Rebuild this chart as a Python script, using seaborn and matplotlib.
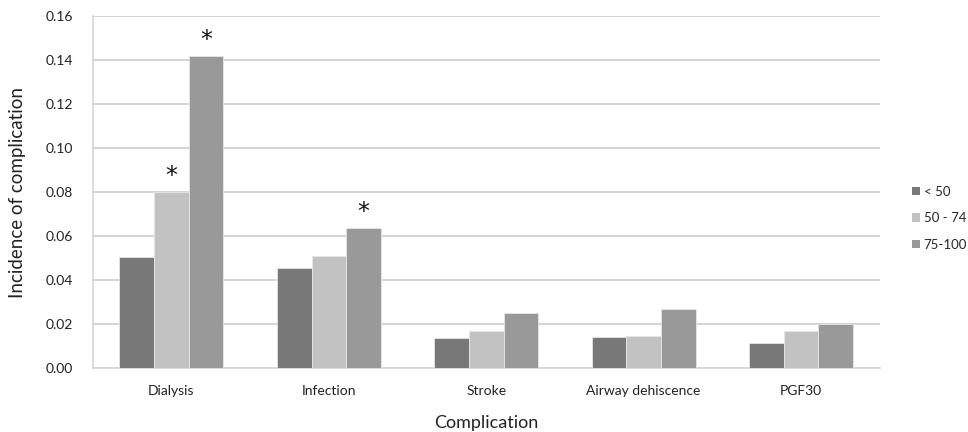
import matplotlib
matplotlib.use("Agg")
import matplotlib.pyplot as plt
import seaborn as sns
import pandas as pd

categories = ["Dialysis", "Infection", "Stroke", "Airway dehiscence", "PGF30"]
groups = ["< 50", "50 - 74", "75-100"]
vals_lt50 = [0.0503, 0.0453, 0.0136, 0.0142, 0.0112]
vals_50_74 = [0.0799, 0.0509, 0.0168, 0.0145, 0.0168]
vals_75_100 = [0.1418, 0.0635, 0.0251, 0.0270, 0.0199]
significant = [(0, 1), (0, 2), (1, 2)]  # (category index, group index)
colors = ["#787878", "#c2c2c2", "#999999"]
yticks = [0.00, 0.02, 0.04, 0.06, 0.08, 0.10, 0.12, 0.14, 0.16]

rows = []
for g, vals in zip(groups, [vals_lt50, vals_50_74, vals_75_100]):
    for c, v in zip(categories, vals):
        rows.append({"Complication": c, "Group": g, "Value": v})
df = pd.DataFrame(rows)

sns.set_theme(style="white")
plt.rcParams["font.family"] = ["Lato", "DejaVu Sans"]

fig = plt.figure(figsize=(9.68, 4.32), dpi=100)
ax = fig.add_axes([0.0958, 0.148, 0.813, 0.815])

sns.barplot(data=df, x="Complication", y="Value", hue="Group", order=categories,
            hue_order=groups, palette=colors, width=0.66, ax=ax,
            edgecolor="#e6e6e6", linewidth=0.6, saturation=1, zorder=3)

ax.set_ylim(0, 0.16)
ax.set_xlim(-0.5, len(categories) - 0.5)
ax.set_yticks(yticks)
ax.set_yticklabels([f"{t:.2f}" for t in yticks], fontsize=10, color="#222222")
ax.tick_params(axis="x", labelsize=10, colors="#222222", length=0, pad=12)
ax.tick_params(axis="y", length=0, pad=14)
ax.yaxis.grid(True, color="#d4d4d4", linewidth=1.4, zorder=0)
ax.set_axisbelow(True)
for s in ["top", "right"]:
    ax.spines[s].set_visible(False)
for s in ["left", "bottom"]:
    ax.spines[s].set_color("#d4d4d4")
    ax.spines[s].set_linewidth(1.2)

ax.set_ylabel("Incidence of complication", fontsize=13.5, color="#222222", labelpad=14)
ax.set_xlabel("Complication", fontsize=13, color="#222222", labelpad=13)

# significance markers
containers = ax.containers
for ci, gi in significant:
    bar = containers[gi][ci]
    x = bar.get_x() + bar.get_width() / 2
    y = bar.get_height()
    ax.text(x, y + 0.0018, "*", ha="center", va="bottom", fontsize=17, color="#111111",
            family="DejaVu Sans")

leg = ax.legend(loc="center left", bbox_to_anchor=(0.942, 0.495),
                bbox_transform=fig.transFigure, frameon=False,
                fontsize=9.5, handlelength=0.6, handleheight=0.6, handletextpad=0.3,
                labelspacing=1.1, borderaxespad=0.0, borderpad=0.0)
for h in leg.legend_handles:
    h.set_edgecolor("none")

fig.savefig("out.png", dpi=100)
